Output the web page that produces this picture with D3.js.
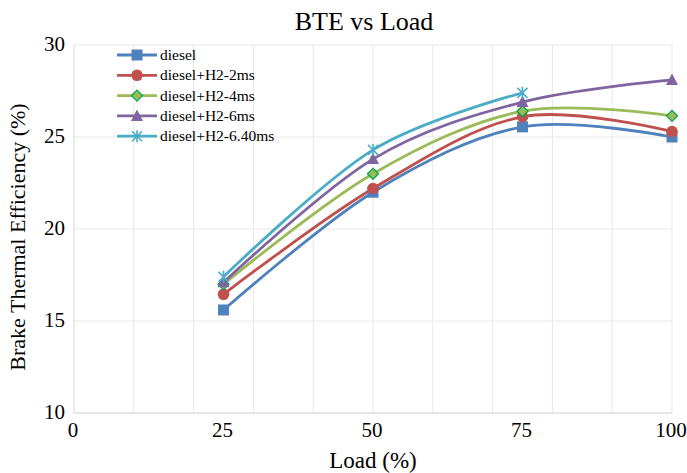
<!DOCTYPE html>
<html lang="en">
<head>
  <meta charset="UTF-8">
  <title>BTE vs Load</title>
  <style>
    body { margin: 0; background: #fff; }
    svg { display: block; font-family: "Liberation Serif", "Times New Roman", serif; }
    .grid line { stroke: #e8e8e8; stroke-width: 1; }
    .tick-label { font-size: 21px; fill: #000; }
    .legend text { font-size: 15.5px; fill: #000; }
  </style>
</head>
<body>
<svg width="687" height="473"></svg>

<script src="https://cdn.jsdelivr.net/npm/d3@7"></script>
<script>
  const loads = [25, 50, 75, 100];
  const seriesNames = ['diesel', 'diesel+H2-2ms', 'diesel+H2-4ms', 'diesel+H2-6ms', 'diesel+H2-6.40ms'];
  const diesel = [15.6, 22.0, 25.55, 25.0];
  const h2_2ms = [16.45, 22.2, 26.1, 25.3];
  const h2_4ms = [17.0, 23.0, 26.4, 26.15];
  const h2_6ms = [17.1, 23.8, 26.9, 28.1];
  const h2_640ms = [17.4, 24.3, 27.4];
  const xTicks = [0, 25, 50, 75, 100];
  const yTicks = [10, 15, 20, 25, 30];

  const colors = ['#4f81bd', '#c0504d', '#9bbb59', '#8064a2', '#4bacc6'];
  const symbols = ['square', 'circle', 'diamond', 'triangle', 'star'];
  const allValues = [diesel, h2_2ms, h2_4ms, h2_6ms, h2_640ms];

  const series = seriesNames.map((name, i) => ({
    name: name,
    color: colors[i],
    symbol: symbols[i],
    points: allValues[i].map((v, j) => ({x: loads[j], y: v}))
  }));

  const svg = d3.select("svg");
  const margin = {left: 74, right: 15, top: 45, bottom: 60};
  const width = 687, height = 473;

  const x = d3.scaleLinear().domain([0, 100]).range([margin.left, width - margin.right]);
  const y = d3.scaleLinear().domain([10, 30]).range([height - margin.bottom, margin.top]);

  // gridlines
  const grid = svg.append("g").attr("class", "grid");
  grid.selectAll(".v")
    .data(d3.range(10, 101, 10))
    .enter().append("line")
    .attr("x1", d => x(d)).attr("x2", d => x(d))
    .attr("y1", y(10)).attr("y2", y(30));
  grid.selectAll(".h")
    .data(yTicks.slice(1))
    .enter().append("line")
    .attr("x1", x(0)).attr("x2", x(100))
    .attr("y1", d => y(d)).attr("y2", d => y(d));

  // axis lines
  svg.append("line")
    .attr("x1", x(0)).attr("x2", x(100))
    .attr("y1", y(10)).attr("y2", y(10))
    .attr("stroke", "#d0d0d0").attr("stroke-width", 1.2);
  svg.append("line")
    .attr("x1", x(0)).attr("x2", x(0))
    .attr("y1", y(10)).attr("y2", y(30))
    .attr("stroke", "#d9d9d9").attr("stroke-width", 1);

  // tick labels
  svg.selectAll(".xt")
    .data(xTicks)
    .enter().append("text")
    .attr("class", "tick-label")
    .attr("x", d => x(d) - 1)
    .attr("y", y(10) + 24)
    .attr("text-anchor", "middle")
    .text(d => d);

  svg.selectAll(".yt")
    .data(yTicks)
    .enter().append("text")
    .attr("class", "tick-label")
    .attr("x", x(0) - 9)
    .attr("y", d => y(d) + 6)
    .attr("text-anchor", "end")
    .text(d => d);

  // titles
  svg.append("text")
    .attr("x", 364)
    .attr("y", 30)
    .attr("text-anchor", "middle")
    .style("font-size", "26px")
    .text("BTE vs Load");

  svg.append("text")
    .attr("x", 373)
    .attr("y", 468)
    .attr("text-anchor", "middle")
    .style("font-size", "23px")
    .text("Load (%)");

  svg.append("text")
    .attr("transform", "translate(25," + 237 + ") rotate(-90)")
    .attr("text-anchor", "middle")
    .style("font-size", "22px")
    .text("Brake Thermal Efficiency (%)");

  // lines
  const line = d3.line()
    .x(d => x(d.x))
    .y(d => y(d.y))
    .curve(d3.curveCatmullRom.alpha(0));

  svg.selectAll(".series")
    .data(series)
    .enter().append("path")
    .attr("d", d => line(d.points))
    .attr("fill", "none")
    .attr("stroke", d => d.color)
    .attr("stroke-width", 2.8);

  function drawMarker(g, s) {
    if (s.symbol === 'square') {
      g.append("rect").attr("x", -5.5).attr("y", -5.5).attr("width", 11).attr("height", 11)
        .attr("fill", s.color);
    } else if (s.symbol === 'circle') {
      g.append("circle").attr("r", 5.8).attr("fill", s.color);
    } else if (s.symbol === 'diamond') {
      g.append("path").attr("d", "M0,-5.5L5.5,0L0,5.5L-5.5,0Z")
        .attr("fill", s.color).attr("stroke", "#00a84f").attr("stroke-width", 1.3);
    } else if (s.symbol === 'triangle') {
      g.append("path").attr("d", "M0,-6.5L6,5L-6,5Z").attr("fill", s.color);
    } else {
      g.append("path").attr("d", "M-5,-5L5,5M-5,5L5,-5M0,-6L0,6")
        .attr("stroke", s.color).attr("stroke-width", 1.6).attr("fill", "none");
    }
  }

  series.forEach(s => {
    s.points.forEach(p => {
      const g = svg.append("g").attr("transform", "translate(" + x(p.x) + "," + y(p.y) + ")");
      drawMarker(g, s);
    });
  });

  // legend
  const legend = svg.append("g").attr("class", "legend");
  series.forEach((s, i) => {
    const ly = 55 + i * 20.3;
    const row = legend.append("g").attr("transform", "translate(0," + ly + ")");
    row.append("line")
      .attr("x1", 117).attr("x2", 157)
      .attr("stroke", s.color).attr("stroke-width", 2.8);
    const m = row.append("g").attr("transform", "translate(137,0)");
    drawMarker(m, s);
    row.append("text")
      .attr("x", 160).attr("y", 5)
      .text(s.name);
  });
</script>
</body>
</html>
